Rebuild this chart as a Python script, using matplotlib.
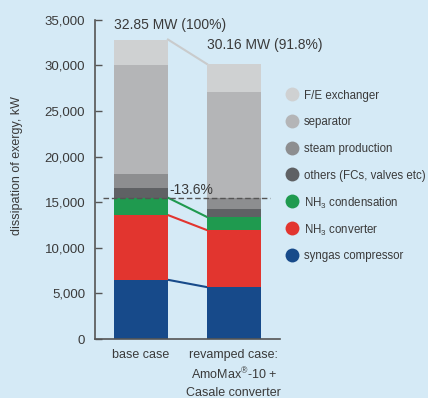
import numpy as np
import matplotlib.pyplot as plt
from matplotlib.lines import Line2D

plt.rcParams['font.family'] = ['Liberation Sans', 'DejaVu Sans']
plt.rcParams['mathtext.fontset'] = 'custom'
plt.rcParams['mathtext.rm'] = 'Liberation Sans'

cases = ['base case', 'revamped case:\nAmoMax$^{®}$-10 +\nCasale converter']
components = ['syngas compressor', 'NH$_3$ converter', 'NH$_3$ condensation',
              'others (FCs, valves etc)', 'steam production', 'separator',
              'F/E exchanger']
colors = ['#174a8a', '#e2352f', '#1f9a4f', '#5f6164', '#8d8e90', '#b4b5b7',
          '#cfd1d2']

# exergy dissipation per component, kW (bottom to top)
base = [6500, 7100, 1900, 1100, 1500, 11900, 2850]
revamped = [5700, 6250, 1440, 870, 1240, 11600, 3060]
totals_mw = [32.85, 30.16]
total_pct = [100, 91.8]
drop_level = 15500
drop_label = '-13.6%'

bg = '#d5eaf6'
txt = '#3a3a3a'

W, H = 428, 398
fig = plt.figure(figsize=(W / 100, H / 100), dpi=100, facecolor=bg)
ax = fig.add_axes([0.222, 0.148, 0.432, 0.802], facecolor=bg)

x = np.arange(len(cases))
w = 0.58
data = np.array([base, revamped])
bottoms = np.zeros(len(cases))
for i, (name, c) in enumerate(zip(components, colors)):
    ax.bar(x, data[:, i], w, bottom=bottoms, color=c, label=name, zorder=2)
    bottoms += data[:, i]

# connectors between the two bars
tops = np.cumsum(data, axis=1)
x0, x1 = x[0] + w / 2, x[1] - w / 2
for i, c in [(0, colors[0]), (1, colors[1]), (2, colors[2])]:
    ax.plot([x0, x1], [tops[0, i], tops[1, i]], color=c, lw=1.5, zorder=1)
ax.plot([x0, x1], [tops[0, -1], tops[1, -1]], color='#c9cbcc', lw=1.5, zorder=1)

ax.plot([-0.41, 1.39], [drop_level, drop_level], ls=(0, (4, 2)),
        color='#555555', lw=1, zorder=3)
ax.text(x0 + 0.01, drop_level + 100, drop_label, fontsize=10, color=txt,
        va='bottom', ha='left', zorder=4)

ax.text(x[0] - w / 2, tops[0, -1] + 800,
        f'{totals_mw[0]:.2f} MW ({total_pct[0]:g}%)', fontsize=10,
        color=txt, va='bottom', ha='left')
ax.text(x[1] - w / 2, tops[1, -1] + 1300,
        f'{totals_mw[1]:.2f} MW ({total_pct[1]:g}%)', fontsize=10,
        color=txt, va='bottom', ha='left')

ax.set_ylim(0, 35000)
ax.set_xlim(-0.495, 1.495)
ax.set_yticks(np.arange(0, 35001, 5000))
ax.set_yticklabels([f'{v:,}' for v in range(0, 35001, 5000)])
ax.set_xticks(x)
ax.set_xticklabels(cases, fontsize=9, color=txt, linespacing=1.45, va='top')
ax.tick_params(axis='x', length=0, pad=7)
ax.tick_params(axis='y', direction='in', length=5, width=1, colors='#555555',
               labelcolor=txt, labelsize=9.5, pad=7)
for s in ['top', 'right']:
    ax.spines[s].set_visible(False)
for s in ['left', 'bottom']:
    ax.spines[s].set_color('#555555')
    ax.spines[s].set_linewidth(1.2)
ax.set_ylabel('dissipation of exergy, kW', fontsize=9, color=txt)
ax.yaxis.set_label_coords(-0.39, 0.545)

# legend: one dot + label per row, top row is the top segment
row_y = 94
for name, c in zip(components[::-1], colors[::-1]):
    yf = 1 - row_y / H
    fig.add_artist(Line2D([292 / W], [yf], transform=fig.transFigure,
                          ls='', marker='o', markersize=10,
                          markerfacecolor=c, markeredgecolor='none'))
    fig.text(304 / W, yf, name, fontsize=8.3, color=txt,
             ha='left', va='center_baseline')
    row_y += 26.8

fig.savefig('out.png', dpi=100, facecolor=bg)
